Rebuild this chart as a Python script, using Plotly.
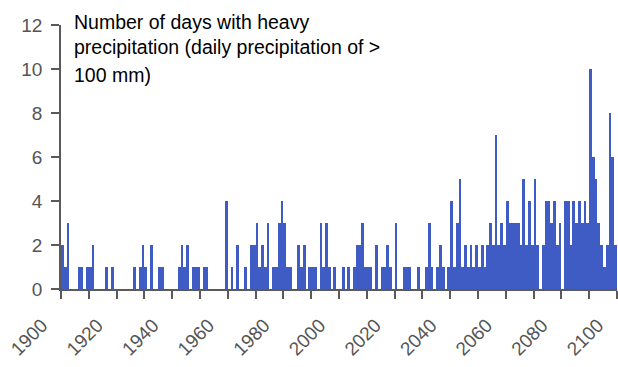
import plotly.graph_objects as go

# Annual number of days with heavy precipitation (> 100 mm/day), 1900-2099
years = list(range(1900, 2100))
days = [
    # 1900-1909
    2, 1, 3, 0, 0, 0, 1, 1, 0, 1,
    # 1910-1919
    1, 2, 0, 0, 0, 0, 1, 0, 1, 0,
    # 1920-1929
    0, 0, 0, 0, 0, 0, 1, 0, 1, 2,
    # 1930-1939
    1, 0, 2, 0, 0, 1, 1, 0, 0, 0,
    # 1940-1949
    0, 0, 1, 2, 1, 2, 0, 1, 1, 1,
    # 1950-1959
    0, 1, 1, 0, 0, 0, 0, 0, 0, 4,
    # 1960-1969
    0, 1, 0, 2, 0, 0, 1, 0, 2, 2,
    # 1970-1979
    3, 1, 2, 1, 3, 0, 1, 1, 3, 4,
    # 1980-1989
    3, 1, 1, 0, 0, 2, 1, 2, 0, 1,
    # 1990-1999
    1, 1, 0, 3, 1, 3, 1, 0, 1, 0,
    # 2000-2009
    0, 1, 0, 1, 0, 1, 2, 2, 3, 1,
    # 2010-2019
    1, 1, 0, 2, 0, 1, 1, 2, 1, 0,
    # 2020-2029
    3, 0, 0, 1, 1, 1, 0, 0, 1, 0,
    # 2030-2039
    0, 1, 3, 1, 0, 1, 2, 1, 0, 1,
    # 2040-2049
    4, 1, 3, 5, 1, 2, 1, 2, 1, 2,
    # 2050-2059
    1, 2, 1, 2, 3, 2, 7, 2, 3, 2,
    # 2060-2069
    4, 3, 3, 3, 3, 2, 5, 2, 4, 2,
    # 2070-2079
    5, 2, 0, 2, 4, 4, 3, 4, 2, 3,
    # 2080-2089
    0, 4, 4, 2, 4, 3, 4, 3, 4, 3,
    # 2090-2099
    10, 6, 5, 3, 2, 1, 2, 8, 6, 2,
]

label_years = list(range(1900, 2101, 20))
y_ticks = [0, 2, 4, 6, 8, 10, 12]

title_lines = [
    "Number of days with heavy",
    "precipitation (daily precipitation of >",
    "100 mm)",
]

bar_color = "rgb(62, 92, 196)"
axis_color = "#5a5a5a"
tick_font = dict(family="Liberation Sans, Arial, sans-serif", size=19, color="#555555")

fig = go.Figure(
    go.Bar(
        x=[y + 0.5 for y in years],
        y=days,
        width=1.0,
        marker=dict(color=bar_color, line=dict(width=0)),
    )
)

fig.update_layout(
    width=618,
    height=367,
    margin=dict(l=61, r=1, t=25, b=78),
    paper_bgcolor="white",
    plot_bgcolor="white",
    showlegend=False,
    bargap=0,
)

fig.update_xaxes(
    range=[1900, 2100.02],
    tickmode="array",
    tickvals=label_years,
    ticktext=[str(v) for v in label_years],
    tickangle=-45,
    ticks="outside",
    ticklen=8,
    tickwidth=1.5,
    tickcolor=axis_color,
    minor=dict(tick0=1900, dtick=10, ticks="outside", ticklen=8,
               tickwidth=1.5, tickcolor=axis_color, showgrid=False),
    showline=True,
    linecolor=axis_color,
    linewidth=1.5,
    showgrid=False,
    zeroline=False,
    tickfont=tick_font,
    ticklabelshift=-19,
    ticklabelstandoff=8,
    ticklabeloverflow="allow",
)

fig.update_yaxes(
    range=[0, 12],
    tickmode="array",
    tickvals=y_ticks,
    ticktext=[str(v) for v in y_ticks],
    ticks="outside",
    ticklen=8,
    tickwidth=1.5,
    tickcolor=axis_color,
    showline=True,
    linecolor=axis_color,
    linewidth=1.5,
    showgrid=False,
    zeroline=False,
    tickfont=tick_font,
    ticklabelstandoff=5,
)

# Three-line chart heading inside the plot area
for text, ypos in zip(title_lines, [1.013, 0.915, 0.811]):
    fig.add_annotation(
        text=text,
        xref="paper", yref="paper",
        x=0.0198, y=ypos,
        xanchor="left", yanchor="middle",
        showarrow=False,
        font=dict(family="Liberation Sans, Arial, sans-serif", size=19.5, color="black"),
    )

fig.write_html("out.html")
